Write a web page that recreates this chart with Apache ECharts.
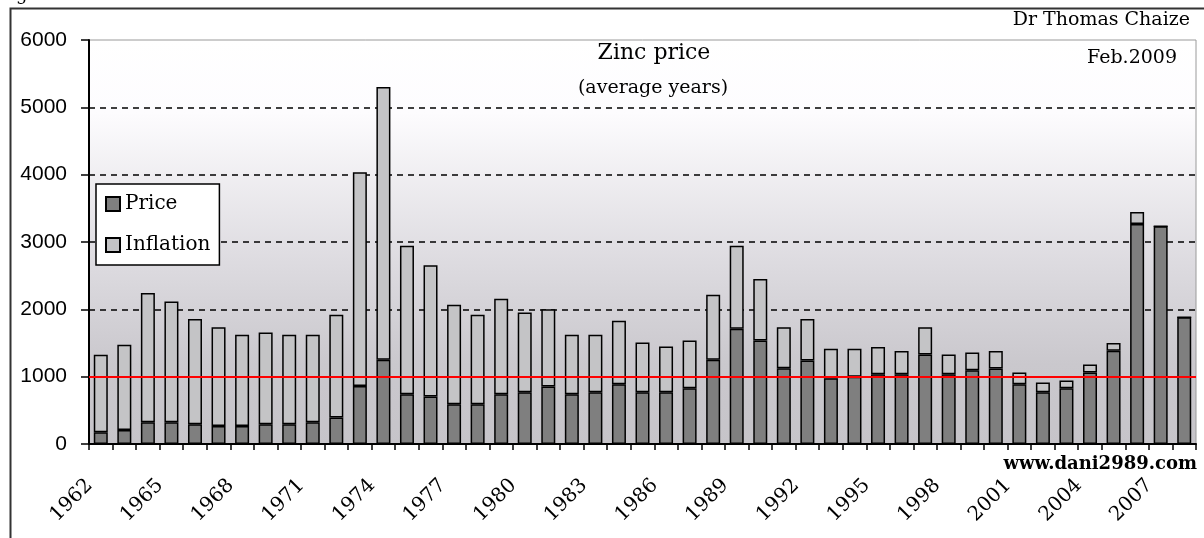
<!DOCTYPE html>
<html>
<head>
<meta charset="utf-8">
<script src="https://cdn.jsdelivr.net/npm/echarts@6/dist/echarts.min.js"></script>
<style>
html,body{margin:0;padding:0;background:#fff;}
#chart{width:1204px;height:538px;}
</style>
</head>
<body>
<div id="chart"></div>
<script>
var years = ['1962','1963','1964','1965','1966','1967','1968','1969','1970','1971','1972','1973','1974',
  '1975','1976','1977','1978','1979','1980','1981','1982','1983','1984','1985','1986','1987','1988','1989','1990','1991',
  '1992','1993','1994','1995','1996','1997','1998','1999','2000','2001','2002','2003','2004','2005','2006','2007','2008'];
var price = [174,208,322,322,293,268,268,293,293,322,392,863,1250,
  739,704,590,590,739,769,853,739,769,888,769,769,828,1250,1711,1537,1126,
  1240,977,1000,1035,1035,1330,1035,1095,1120,888,769,828,1063,1386,3268,3233,1884];
var inflation = [1150,1265,1919,1795,1562,1467,1353,1363,1328,1299,1527,3173,4051,
  2206,1949,1478,1329,1418,1185,1150,882,852,942,738,679,709,967,1234,913,609,
  615,436,413,405,348,405,295,264,263,173,146,114,117,114,178,0,0];
var yTicks = {min:0, max:6000, interval:1000};
var referenceLevel = 1000;

var chart = echarts.init(document.getElementById('chart'), null, {renderer:'canvas'});
var barBorder = {borderColor:'#000', borderWidth:1.5};
chart.setOption({
  animation:false,
  backgroundColor:'#fff',
  grid:{left:89, right:8, top:40, bottom:94, show:true, borderColor:'#9a9a9a', borderWidth:1,
    backgroundColor:{type:'linear', x:0, y:0, x2:0, y2:1, colorStops:[
      {offset:0, color:'#ffffff'},{offset:0.18, color:'#fdfcfe'},{offset:0.55, color:'#dddbe0'},{offset:0.8, color:'#cac8cd'},{offset:1, color:'#c6c4c9'}]}},
  legend:{
    orient:'vertical', left:96, top:184, padding:[10,9,10,9], itemGap:21,
    itemWidth:14, itemHeight:14, backgroundColor:'#fff', borderColor:'#000', borderWidth:1.5,
    icon:'rect',
    textStyle:{fontFamily:'DejaVu Serif', fontSize:20, color:'#000', lineHeight:20},
    data:['Price','Inflation']
  },
  xAxis:{
    type:'category', data:years, boundaryGap:true,
    axisLine:{lineStyle:{color:'#000', width:2}},
    axisTick:{show:true, interval:0, length:6, lineStyle:{color:'#000', width:1.5}},
    axisLabel:{interval:2, rotate:45, margin:27, padding:[0,16,0,0], fontFamily:'DejaVu Serif', fontSize:20, color:'#000'}
  },
  yAxis:{
    type:'value', min:yTicks.min, max:yTicks.max, interval:yTicks.interval,
    axisLine:{show:true, lineStyle:{color:'#000', width:2}},
    axisTick:{show:true, length:8, lineStyle:{color:'#000', width:1.5}},
    axisLabel:{margin:22, fontFamily:'Liberation Sans', fontSize:21, color:'#000', formatter:function(v){return String(v);}},
    splitLine:{show:true, showMinLine:false, showMaxLine:false, lineStyle:{color:'#000', width:1.5, type:[6,5]}}
  },
  series:[
    {name:'Price', type:'bar', stack:'t', data:price, barWidth:14,
      itemStyle:Object.assign({color:'#7f7f7f'}, barBorder)},
    {name:'Inflation', type:'bar', stack:'t', data:inflation, barWidth:14,
      itemStyle:Object.assign({color:'#c4c4c6'}, barBorder),
      markLine:{silent:true, symbol:'none', label:{show:false},
        lineStyle:{color:'#ff0000', width:2, type:'solid'},
        data:[{yAxis:referenceLevel}]}}
  ],
  graphic:[
    {type:'rect', left:8, top:6, shape:{width:1300, height:700}, style:{fill:'none', stroke:'#333', lineWidth:2}, z:100},
    {type:'text', x:16, y:-14, style:{text:'g', font:'18px "DejaVu Serif"', fill:'#000'}},
    {type:'text', x:1190, y:20, style:{text:'Dr Thomas Chaize', font:'19px "DejaVu Serif"', fill:'#000', textAlign:'right', textVerticalAlign:'middle'}},
    {type:'text', x:654, y:53, style:{text:'Zinc price', font:'22px "DejaVu Serif"', fill:'#000', textAlign:'center', textVerticalAlign:'middle'}, z:50},
    {type:'text', x:653, y:88, style:{text:'(average years)', font:'19px "DejaVu Serif"', fill:'#000', textAlign:'center', textVerticalAlign:'middle'}, z:50},
    {type:'text', x:1177, y:58, style:{text:'Feb.2009', font:'19px "DejaVu Serif"', fill:'#000', textAlign:'right', textVerticalAlign:'middle'}, z:50},
    {type:'text', x:1197, y:464, style:{text:'www.dani2989.com', font:'bold 18px "DejaVu Serif"', fill:'#000', textAlign:'right', textVerticalAlign:'middle'}, z:50}
  ]
});
</script>
</body>
</html>
